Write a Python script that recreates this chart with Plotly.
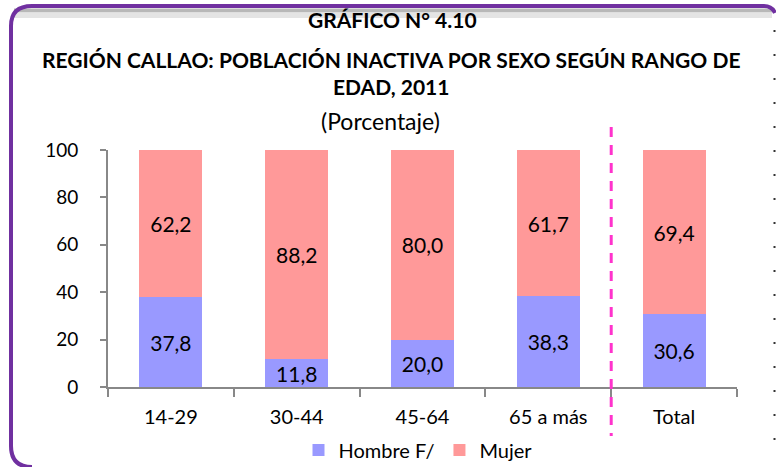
import plotly.graph_objects as go

categories = ["14-29", "30-44", "45-64", "65 a más", "Total"]
hombre = [37.8, 11.8, 20.0, 38.3, 30.6]
mujer = [62.2, 88.2, 80.0, 61.7, 69.4]
y_ticks = [0, 20, 40, 60, 80, 100]

W, H = 776, 467
L, R, T, B = 108, 39, 150, 80
PW, PH = W - L - R, H - T - B

def px(x):
    return (x - L) / PW

def py(y):
    return (H - B - y) / PH

FONT = "Lato"

fig = go.Figure()
fig.add_trace(go.Bar(
    x=categories, y=hombre, name="Hombre F/",
    marker=dict(color="#9999FF", line=dict(width=0)),
    texttemplate="%{y:.1f}", textposition="inside", insidetextanchor="middle",
    constraintext="none",
    textfont=dict(family=FONT, size=21, color="#000000"),
))
fig.add_trace(go.Bar(
    x=categories, y=mujer, name="Mujer",
    marker=dict(color="#FF9999", line=dict(width=0)),
    texttemplate="%{y:.1f}", textposition="inside", insidetextanchor="middle",
    constraintext="none",
    textfont=dict(family=FONT, size=21, color="#000000"),
))

shapes = []
# frame
path = (f"M {px(32)},{py(467)} Q {px(11)},{py(467)} {px(11)},{py(446)} "
        f"L {px(11)},{py(26)} Q {px(11)},{py(6)} {px(32)},{py(6)} "
        f"L {px(764)},{py(6)} Q {px(772)},{py(6)} {px(775)},{py(13)}")
shapes.append(dict(type="path", xref="paper", yref="paper", path=path,
                   line=dict(color="#7030A0", width=4)))
# dotted strip
shapes.append(dict(type="rect", xref="paper", yref="paper",
                   x0=px(14), x1=px(772), y0=py(8.5), y1=py(12.5),
                   fillcolor="#b8b8b8", line=dict(width=0), layer="below"))
shapes.append(dict(type="rect", xref="paper", yref="paper",
                   x0=px(14), x1=px(772), y0=py(12.5), y1=py(18),
                   fillcolor="#e4e4e4", line=dict(width=0), layer="below"))
# right dotted edge
shapes.append(dict(type="line", xref="paper", yref="paper",
                   x0=px(774.5), x1=px(774.5), y0=py(30), y1=py(462),
                   line=dict(color="#333333", width=2, dash="2px,22px")))
# magenta dashed separator
shapes.append(dict(type="line", xref="x", yref="paper",
                   x0=3.5, x1=3.5, y0=py(127), y1=py(436),
                   line=dict(color="#FF33CC", width=3, dash="10px,8px")))

annotations = [
    dict(text="<b>GRÁFICO N° 4.10</b>", x=px(392), y=py(19)),
    dict(text="<b>REGIÓN CALLAO: POBLACIÓN INACTIVA POR SEXO SEGÚN RANGO DE</b>", x=px(391), y=py(59)),
    dict(text="<b>EDAD, 2011</b>", x=px(391), y=py(87)),
]
annots = []
for a in annotations:
    a.update(xref="paper", yref="paper", xanchor="center", yanchor="middle",
             showarrow=False, font=dict(family=FONT, size=21, color="#000000"))
    annots.append(a)
annots.append(dict(text="(Porcentaje)", x=px(380), y=py(121), xref="paper", yref="paper",
                   xanchor="center", yanchor="middle", showarrow=False,
                   font=dict(family=FONT, size=23, color="#000000")))

fig.update_layout(
    width=W, height=H,
    margin=dict(l=L, r=R, t=T, b=B, pad=0, autoexpand=False),
    paper_bgcolor="white", plot_bgcolor="white",
    barmode="stack", bargap=0.5,
    separators=",.",
    font=dict(family=FONT, size=18, color="#000000"),
    shapes=shapes, annotations=annots,
    showlegend=True,
    legend=dict(orientation="h", xref="container", yref="container",
                x=418 / W, xanchor="center", y=(H - 450) / H, yanchor="middle",
                font=dict(family=FONT, size=20), itemsizing="constant",
                traceorder="normal", bgcolor="rgba(0,0,0,0)", itemwidth=30),
    xaxis=dict(type="category", showline=True, linecolor="#888888", linewidth=2,
               ticks="outside", tickson="boundaries", ticklen=8, tickcolor="#888888", tickwidth=2,
               tickfont=dict(family=FONT, size=20), showgrid=False, fixedrange=True,
               automargin=False, ticklabelstandoff=11),
    yaxis=dict(range=[0, 100], tickvals=y_ticks, showline=True, linecolor="#888888", linewidth=2,
               ticks="outside", ticklen=6, tickcolor="#888888", tickwidth=2,
               tickfont=dict(family=FONT, size=19), showgrid=False, zeroline=False,
               ticklabelstandoff=18, fixedrange=True, automargin=False),
)

fig.write_html("out.html", config={"displayModeBar": False},
               post_script="document.body.style.margin='0';document.body.style.overflow='hidden';")
